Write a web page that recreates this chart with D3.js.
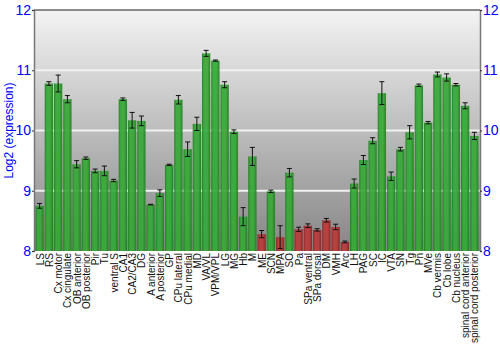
<!DOCTYPE html>
<html>
<head>
<meta charset="utf-8">
<script src="https://cdn.jsdelivr.net/npm/d3@7"></script>
<style>
	body { margin: 0; background: #fff; }
	svg { display: block; font-family: "Liberation Sans", Arial, Helvetica, sans-serif; }
</style>
</head>
<body>
<svg id="chart"></svg>
<script>

	var regions = ['LS', 'RS', 'Cx motor', 'Cx cingulate', 'OB anterior', 'OB posterior', 'Pir', 'Tu',
		'ventral S', 'CA1', 'CA2/CA3', 'DG', 'A anterior', 'A posterior', 'GP', 'CPu lateral',
		'CPu medial', 'MD', 'VA/VL', 'VPM/VPL', 'LG', 'MG', 'Hb', 'M', 'ME', 'SCN', 'MPA', 'SO',
		'Pa', 'SPa ventral', 'SPa dorsal', 'DM', 'VMH', 'Arc', 'LH', 'PAG', 'SC', 'IC', 'VTA',
		'SN', 'Tg', 'Pn', 'MVe', 'Cb vermis', 'Cb lobe', 'Cb nucleus', 'spinal cord anterior',
		'spinal cord posterior'];

	var expression = [8.75, 10.78, 10.78, 10.52, 9.44, 9.54, 9.33, 9.33,
		9.17, 10.52, 10.17, 10.16, 8.77, 8.96, 9.43, 10.51,
		9.69, 10.11, 11.28, 11.16, 10.76, 9.98, 8.57, 9.57, 8.28, 8.99, 8.23, 9.30,
		8.36, 8.42, 8.35, 8.51, 8.40, 8.15, 9.12, 9.51, 9.83, 10.62, 9.24,
		9.69, 9.97, 10.75, 10.13, 10.93, 10.88, 10.76, 10.41,
		9.91];

	var errors = [0.04, 0.03, 0.14, 0.06, 0.06, 0.02, 0.03, 0.08,
		0.02, 0.02, 0.13, 0.08, 0.005, 0.055, 0.01, 0.07,
		0.12, 0.11, 0.05, 0.01, 0.05, 0.03, 0.15, 0.15, 0.06, 0.02, 0.19, 0.07,
		0.035, 0.03, 0.02, 0.03, 0.045, 0.015, 0.075, 0.075, 0.05, 0.19, 0.07,
		0.03, 0.11, 0.02, 0.02, 0.04, 0.06, 0.02, 0.05,
		0.06];

	// regions drawn in red
	var lowRegions = ['ME', 'MPA', 'Pa', 'SPa ventral', 'SPa dorsal', 'DM', 'VMH', 'Arc'];

	var yTicks = [8, 9, 10, 11, 12];

(function() {

	var data = regions.map(function(d, i) {
		return { key: d, value: expression[i], err: errors[i], low: lowRegions.indexOf(d) >= 0 };
	});

	var W = 500, H = 350,
		mLeft = 34, mRight = 480, mTop = 10, mBottom = 251;

	var svg = d3.select("#chart")
		.attr("width", W)
		.attr("height", H);

	var defs = svg.append("defs");

	var bg = defs.append("linearGradient")
		.attr("id", "bg")
		.attr("x1", 0).attr("y1", 0).attr("x2", 0).attr("y2", 1);
	bg.append("stop").attr("offset", "0%").attr("stop-color", "#f3f3f3");
	bg.append("stop").attr("offset", "100%").attr("stop-color", "#868686");

	function barGradient(id, dark, light) {
		var g = defs.append("linearGradient")
			.attr("id", id)
			.attr("x1", 0).attr("y1", 0).attr("x2", 1).attr("y2", 0);
		g.append("stop").attr("offset", "0%").attr("stop-color", dark);
		g.append("stop").attr("offset", "25%").attr("stop-color", light);
		g.append("stop").attr("offset", "65%").attr("stop-color", light);
		g.append("stop").attr("offset", "100%").attr("stop-color", dark);
	}
	barGradient("green", "#1d7d1d", "#36a836");
	barGradient("red", "#8a2222", "#b93a3a");

	var x = d3.scaleBand()
		.domain(regions)
		.range([mLeft + 1, mRight - 1])
		.paddingInner(0.1)
		.paddingOuter(0.05);

	var y = d3.scaleLinear()
		.domain([8, 12])
		.range([mBottom, mTop]);

	// plot background
	svg.append("rect")
		.attr("x", mLeft)
		.attr("y", mTop)
		.attr("width", mRight - mLeft)
		.attr("height", mBottom - mTop)
		.style("fill", "url(#bg)");

	// grid lines
	svg.append("g")
		.selectAll("line")
		.data(yTicks.slice(1, -1))
		.enter().append("line")
		.attr("x1", mLeft)
		.attr("x2", mRight)
		.attr("y1", function(d) { return y(d); })
		.attr("y2", function(d) { return y(d); })
		.style("stroke", "#f0f0f0")
		.style("stroke-width", 2);

	// bars
	svg.append("g")
		.selectAll("rect")
		.data(data)
		.enter().append("rect")
		.attr("x", function(d) { return x(d.key); })
		.attr("width", x.bandwidth())
		.attr("y", function(d) { return y(d.value); })
		.attr("height", function(d) { return mBottom - y(d.value); })
		.style("fill", function(d) { return d.low ? "url(#red)" : "url(#green)"; })
		.style("opacity", 0.92);

	// error bars
	var eb = svg.append("g")
		.selectAll("g")
		.data(data)
		.enter().append("g")
		.attr("transform", function(d) { return "translate(" + (x(d.key) + x.bandwidth() / 2) + ",0)"; })
		.style("stroke", "#111")
		.style("stroke-width", 1);

	eb.append("line")
		.attr("x1", 0).attr("x2", 0)
		.attr("y1", function(d) { return y(d.value + d.err); })
		.attr("y2", function(d) { return y(d.value - d.err); });
	eb.append("line")
		.attr("x1", -2.5).attr("x2", 2.5)
		.attr("y1", function(d) { return y(d.value + d.err); })
		.attr("y2", function(d) { return y(d.value + d.err); });
	eb.append("line")
		.attr("x1", -2.5).attr("x2", 2.5)
		.attr("y1", function(d) { return y(d.value - d.err); })
		.attr("y2", function(d) { return y(d.value - d.err); });

	// top border
	svg.append("line")
		.attr("x1", mLeft).attr("x2", mRight)
		.attr("y1", mTop).attr("y2", mTop)
		.style("stroke", "#666")
		.style("stroke-width", 1.5);

	// axes
	var leftAxis = d3.axisLeft(y).tickValues(yTicks).tickSize(2).tickPadding(1).tickFormat(d3.format("d"));
	var rightAxis = d3.axisRight(y).tickValues(yTicks).tickSize(2).tickPadding(1).tickFormat(d3.format("d"));

	[svg.append("g").attr("transform", "translate(" + mLeft + ",0)").call(leftAxis),
	 svg.append("g").attr("transform", "translate(" + mRight + ",0)").call(rightAxis)].forEach(function(g) {
		g.select(".domain").style("stroke", "#777").style("stroke-width", 1.5);
		g.selectAll(".tick line").style("stroke", "#333");
		g.selectAll(".tick text")
			.style("fill", "#0000ff")
			.style("font-size", "14px")
			.style("font-family", "Liberation Sans, Arial, sans-serif");
	});

	// category labels
	svg.append("g")
		.selectAll("text")
		.data(regions)
		.enter().append("text")
		.attr("transform", function(d) { return "translate(" + (x(d) + x.bandwidth() / 2 + 4) + "," + (mBottom + 2) + ") rotate(-90) scale(0.91,1)"; })
		.style("text-anchor", "end")
		.style("font-size", "11px")
		.style("fill", "#111")
		.text(function(d) { return d; });

	// y axis title
	svg.append("text")
		.attr("transform", "translate(13," + ((mTop + mBottom) / 2) + ") rotate(-90)")
		.style("text-anchor", "middle")
		.style("font-size", "12px")
		.style("fill", "#0000ff")
		.text("Log2 (expression)");

})();

</script>
</body>
</html>
